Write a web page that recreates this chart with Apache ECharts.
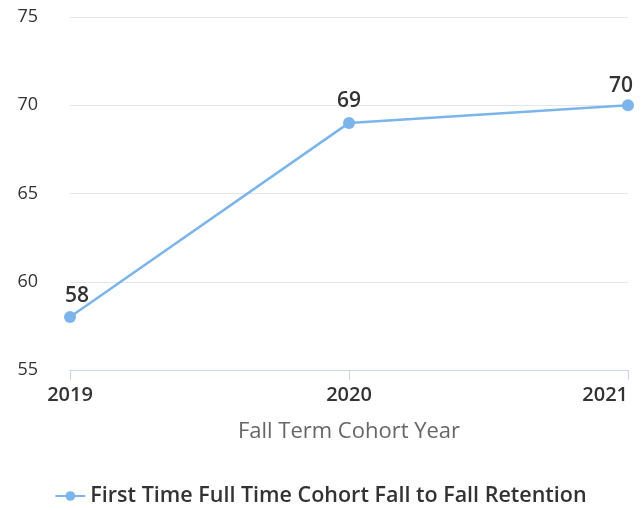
<!DOCTYPE html>
<html>
<head>
<meta charset="utf-8">
<script src="https://cdn.jsdelivr.net/npm/echarts@6/dist/echarts.min.js"></script>
<style>
  html, body { margin: 0; padding: 0; background: #fff; }
  #chart { width: 641px; height: 510px; }
</style>
</head>
<body>
<div id="chart"></div>
<script>
// Cohort years and retention rates (%)
const cohortYears = ['2019', '2020', '2021'];
const retentionRates = [58, 69, 70];
const seriesName = 'First Time Full Time Cohort Fall to Fall Retention';
const axisTitle = 'Fall Term Cohort Year';

const fontFamily = '"Open Sans", "DejaVu Sans", sans-serif';

// Keep the end labels inside the plot area: first one starts at the plot edge,
// last one ends at it.
const lastIndex = retentionRates.length - 1;
const seriesData = retentionRates.map((v, i) => {
  if (i === 0) return { value: v, label: { align: 'left', offset: [-5, 0] } };
  if (i === lastIndex) return { value: v, label: { align: 'right', offset: [5, 2] } };
  return { value: v };
});

const chart = echarts.init(document.getElementById('chart'));
chart.setOption({
  animation: false,
  textStyle: { fontFamily: fontFamily },
  grid: { left: 70, right: 13, top: 17, bottom: 140, containLabel: false },
  legend: {
    bottom: -2,
    left: 'center',
    itemWidth: 30,
    itemHeight: 12,
    itemGap: 8,
    textStyle: { fontSize: 21.5, fontWeight: 600, color: '#333', fontFamily: fontFamily },
    data: [seriesName]
  },
  xAxis: {
    type: 'category',
    data: cohortYears,
    boundaryGap: false,
    name: axisTitle,
    nameLocation: 'middle',
    nameGap: 51,
    nameTextStyle: { fontSize: 22, color: '#666' },
    axisLine: { lineStyle: { color: '#ccd6eb', width: 1 } },
    axisTick: { show: true, alignWithLabel: true, length: 10, lineStyle: { color: '#ccd6eb' } },
    axisLabel: {
      fontSize: 20, fontWeight: 600, color: '#333', margin: 15,
      alignMaxLabel: 'right'
    },
    splitLine: { show: false }
  },
  yAxis: {
    type: 'value',
    min: 55,
    max: 75,
    interval: 5,
    axisLine: { show: false },
    axisTick: { show: false },
    axisLabel: { fontSize: 18, color: '#333', margin: 32 },
    splitLine: { lineStyle: { color: '#e6e6e6', width: 1 } }
  },
  series: [{
    name: seriesName,
    type: 'line',
    data: seriesData,
    symbol: 'circle',
    symbolSize: 12,
    itemStyle: { color: '#7cb5ec' },
    lineStyle: { color: '#7cb5ec', width: 2.5 },
    label: {
      show: true,
      position: 'top',
      distance: 5,
      fontSize: 21,
      fontWeight: 600,
      color: '#333'
    }
  }]
});
</script>
</body>
</html>
